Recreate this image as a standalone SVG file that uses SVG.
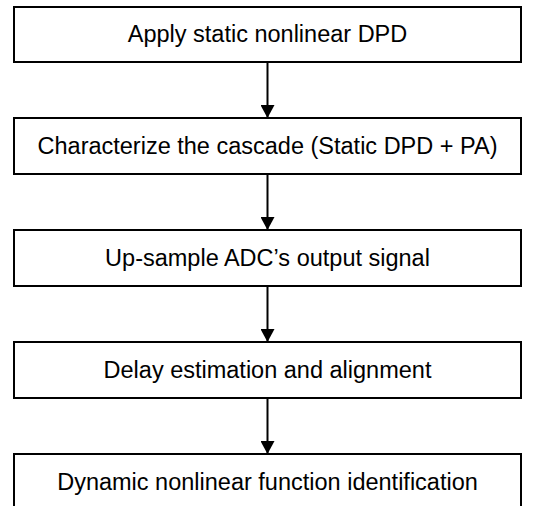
<svg xmlns="http://www.w3.org/2000/svg" width="541" height="506" viewBox="0 0 541 506">
<defs>
<style>
.box{fill:#fff;stroke:#000;stroke-width:2}
.lbl{font-family:"Liberation Sans",Arial,sans-serif;font-size:23.5px;fill:#000;text-anchor:middle}
.con{stroke:#000;stroke-width:2;fill:none}
</style>
<marker id="ah" markerUnits="userSpaceOnUse" markerWidth="14" markerHeight="14" refX="13" refY="7" orient="auto">
<path d="M0,0 L13,7 L0,14 Z" fill="#000"/>
</marker>
</defs>
<rect width="541" height="506" fill="#fff"/>
<g id="connectors">
<line class="con" x1="267.5" y1="62" x2="267.5" y2="118" marker-end="url(#ah)"/>
<line class="con" x1="267.5" y1="174" x2="267.5" y2="230" marker-end="url(#ah)"/>
<line class="con" x1="267.5" y1="286" x2="267.5" y2="342" marker-end="url(#ah)"/>
<line class="con" x1="267.5" y1="398" x2="267.5" y2="454" marker-end="url(#ah)"/>
</g>
<g id="n1"><rect class="box" x="14" y="7" width="507" height="55"/><text class="lbl" x="267.5" y="42">Apply static nonlinear DPD</text></g>
<g id="n2"><rect class="box" x="14" y="118" width="507" height="56"/><text class="lbl" x="267.5" y="154">Characterize the cascade (Static DPD + PA)</text></g>
<g id="n3"><rect class="box" x="14" y="230" width="507" height="56"/><text class="lbl" x="267.5" y="266">Up-sample ADC’s output signal</text></g>
<g id="n4"><rect class="box" x="14" y="342" width="507" height="56"/><text class="lbl" x="267.5" y="378">Delay estimation and alignment</text></g>
<g id="n5"><rect class="box" x="14" y="454" width="507" height="56"/><text class="lbl" x="267.5" y="490">Dynamic nonlinear function identification</text></g>
</svg>
